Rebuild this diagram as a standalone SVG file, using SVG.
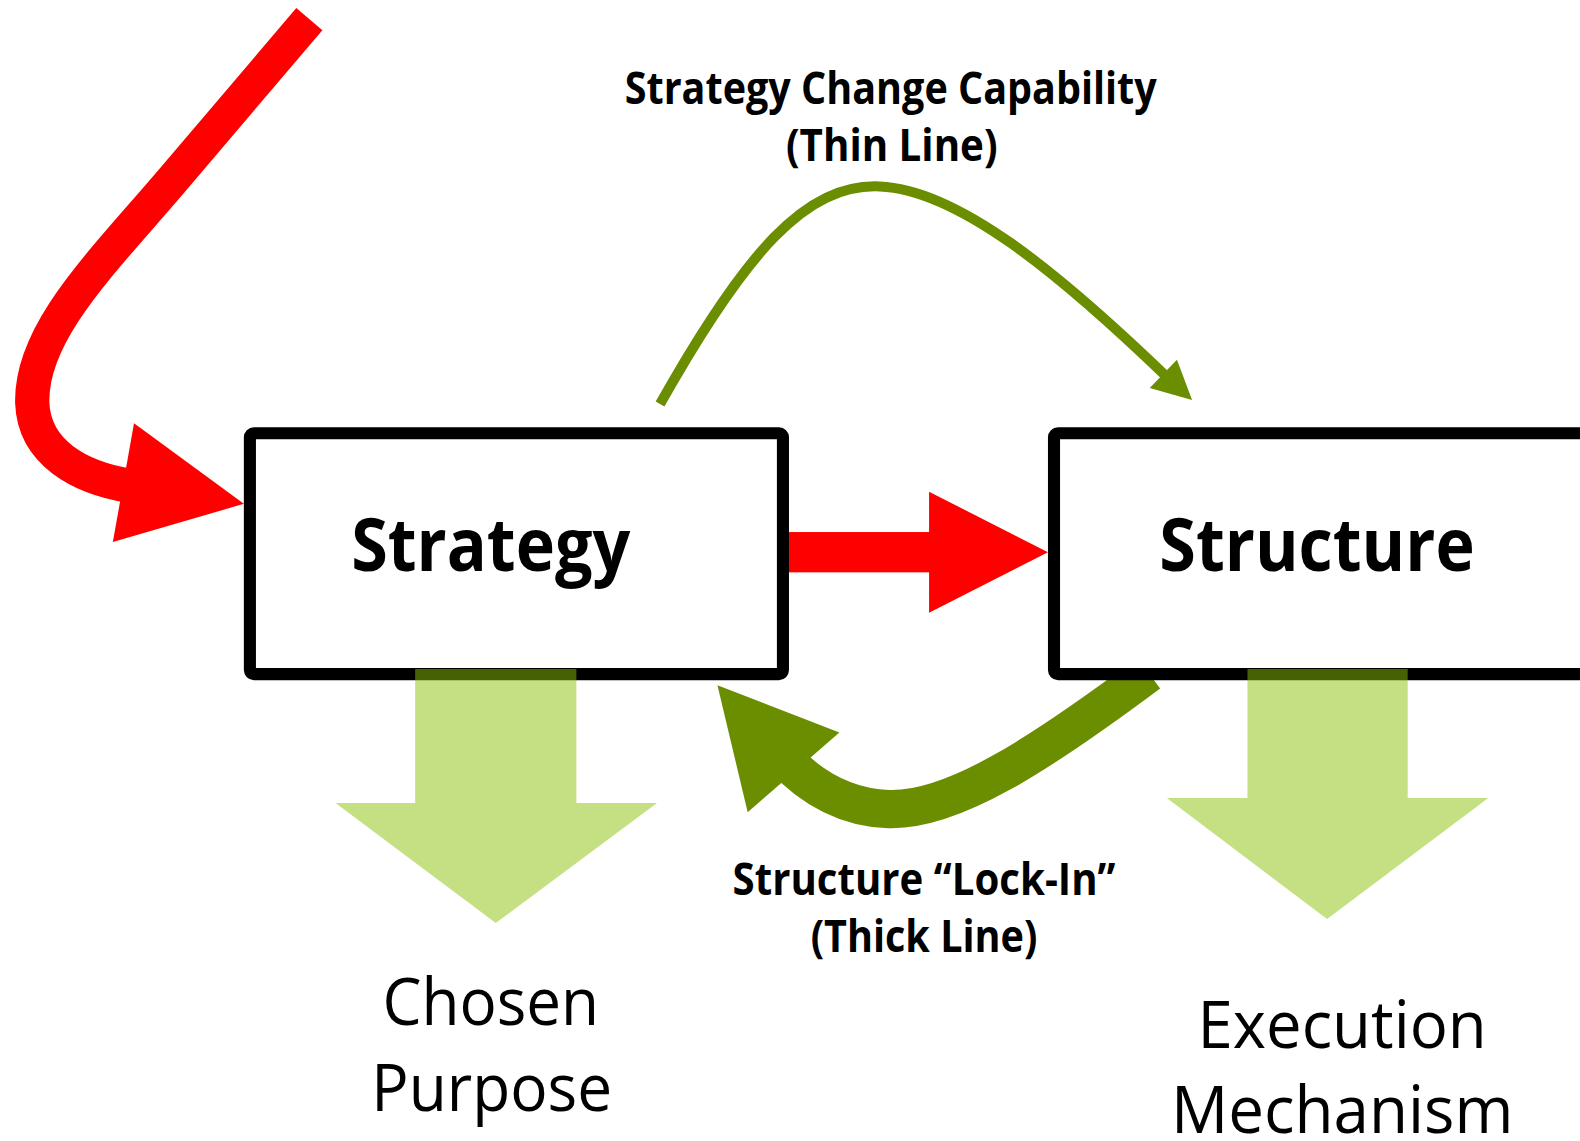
<svg xmlns="http://www.w3.org/2000/svg" width="1580" height="1141" viewBox="0 0 1580 1141">
<style>
.box{fill:#fff;stroke:#000;stroke-width:12;stroke-linejoin:round}
.lbl{font-family:"Open Sans","Liberation Sans",sans-serif;text-anchor:middle;fill:#000}
.b{font-weight:bold}
.red{fill:#ff0000}
.grn{fill:#6b8e00}
.lg{fill:rgb(140,194,5);fill-opacity:0.5}
</style>
<rect width="1580" height="1141" fill="#fff"/>
<g transform="scale(1.00765)">
<g id="connectors">
<path d="M307 19 L170 180 C100 262 30 330 32 400 C34 450 80 474 128 482" fill="none" stroke="#ff0000" stroke-width="34"/>
<polygon class="red" points="133,420 242,500 112,538"/>
<rect class="red" x="770" y="528" width="154" height="40"/>
<polygon class="red" points="922,488 1040,548 922,608"/>
<path d="M655 401 C740 250 800 182 873 185 C950 188 1050 270 1160 376" fill="none" stroke="#6b8e00" stroke-width="10"/>
<polygon class="grn" points="1183,397 1141,385 1168,357"/>
<path d="M1140 668 C1030 750 945 805 882 803 C850 802 812 790 775 750" fill="none" stroke="#6b8e00" stroke-width="38"/>
<polygon class="grn" points="712,680 833,727 742,806"/>
</g>
<g id="strategy">
<rect class="box" x="248" y="430" width="529" height="239" rx="4"/>
<text class="lbl b" x="487" y="567" font-size="73" textLength="277" lengthAdjust="spacingAndGlyphs">Strategy</text>
</g>
<g id="structure">
<rect class="box" x="1046" y="430" width="600" height="239" rx="4"/>
<text class="lbl b" x="1307" y="567" font-size="73" textLength="313" lengthAdjust="spacingAndGlyphs">Structure</text>
</g>
<g id="chosen-purpose">
<polygon class="lg" points="412,664 572,664 572,797 652,797 492,916 333,797 412,797"/>
<text class="lbl" x="487" y="1017" font-size="65" textLength="215" lengthAdjust="spacingAndGlyphs">Chosen</text>
<text class="lbl" x="488" y="1103" font-size="65" textLength="239" lengthAdjust="spacingAndGlyphs">Purpose</text>
</g>
<g id="execution-mechanism">
<polygon class="lg" points="1238,664 1397,664 1397,792 1477,792 1317,912 1158,792 1238,792"/>
<text class="lbl" x="1332" y="1040" font-size="65" textLength="287" lengthAdjust="spacingAndGlyphs">Execution</text>
<text class="lbl" x="1332" y="1124" font-size="65" textLength="340" lengthAdjust="spacingAndGlyphs">Mechanism</text>
</g>
<g id="labels">
<text class="lbl b" x="884" y="103" font-size="45" textLength="528" lengthAdjust="spacingAndGlyphs">Strategy Change Capability</text>
<text class="lbl b" x="885" y="160" font-size="45" textLength="210" lengthAdjust="spacingAndGlyphs">(Thin Line)</text>
<text class="lbl b" x="917" y="888" font-size="45" textLength="380" lengthAdjust="spacingAndGlyphs">Structure “Lock-In”</text>
<text class="lbl b" x="917" y="945" font-size="45" textLength="225" lengthAdjust="spacingAndGlyphs">(Thick Line)</text>
</g>
</g>
</svg>
